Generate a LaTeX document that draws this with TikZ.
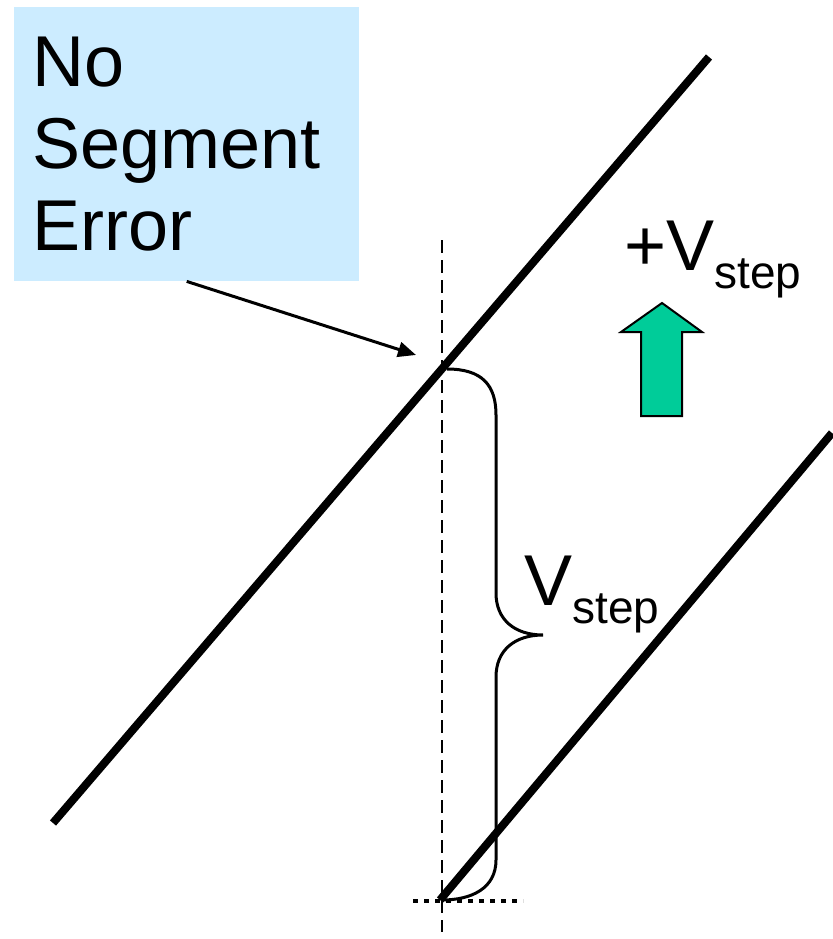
\documentclass[tikz,border=0pt]{standalone}
\usepackage{fontspec}
\setmainfont{Liberation Sans}
\usepackage{tikz}
\usetikzlibrary{arrows.meta}

\definecolor{boxblue}{HTML}{CCECFF}
\definecolor{upgreen}{HTML}{00CC99}

\newcommand{\stepsub}[1]{\raisebox{-18pt}{\fontsize{46}{46}\selectfont #1}}

\begin{document}
\begin{tikzpicture}[x=1pt, y=-1pt, >=Latex,
    bigtext/.style={font=\fontsize{72}{82}\selectfont, inner sep=0pt},
    segline/.style={line width=8pt},
    thinline/.style={line width=3pt}]
  \useasboundingbox (0,0) rectangle (832,939);

  % Points
  \coordinate (A1) at (53,823);
  \coordinate (A2) at (709,57);
  \coordinate (B1) at (440,900);
  \coordinate (B2) at (832,433);
  \coordinate (hit) at (442,369);
  \coordinate (tip) at (416,355);

  % Label box
  \node[bigtext, fill=boxblue, anchor=north west, text width=309pt, align=left,
        inner xsep=18pt, minimum width=345pt, minimum height=274pt] (err) at (14,7)
        {No\\Segment\\Error};

  % Reference lines
  \draw[line width=2.8pt, dash pattern=on 13pt off 7pt] (442,240) -- (442,932);
  \draw[line width=4.5pt, dash pattern=on 5pt off 6pt] (413,901) -- (523,901);

  % Segments
  \draw[segline] (A1) -- (A2);
  \draw[segline] (B1) -- (B2);

  % Pointer
  \draw[thinline, -{Triangle[length=18pt, width=15pt]}] (err.south) -- (tip);

  % Brace
  \draw[thinline] (447,369) .. controls (482,369) and (496,385) .. (496,415)
    -- (496,593) .. controls (496,620) and (515,635) .. (543,635)
    .. controls (515,635) and (496,650) .. (496,677)
    -- (496,860) .. controls (496,888) and (472,900) .. (442,900);
  \node[bigtext, anchor=base west] (vs) at (524,605) {V\stepsub{step}};

  % Step direction
  \node[bigtext, anchor=base west] (pvs) at (624,270) {+V\stepsub{step}};
  \draw[line width=2pt, fill=upgreen, line join=miter]
    (662,303) -- (702,332) -- (682,332) -- (682,416) -- (641,416)
    -- (641,332) -- (621,332) -- cycle;
\end{tikzpicture}
\end{document}
